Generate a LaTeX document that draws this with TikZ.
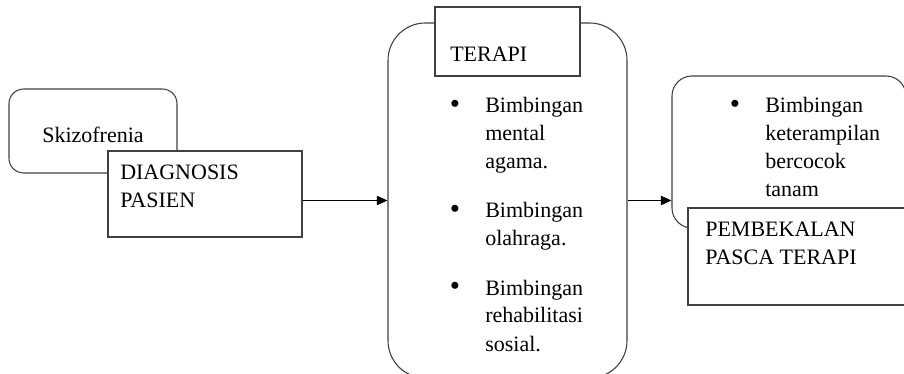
\documentclass[tikz,border=0pt]{standalone}
\usepackage{fontspec}
\setmainfont{Liberation Serif}
\usetikzlibrary{arrows.meta}
\usetikzlibrary{fit}

\begin{document}
\begin{tikzpicture}[x=0.75pt,y=-0.75pt,>/.tip={Triangle[length=8pt,width=7pt]},
	box/.style={draw=black!75,line width=0.8pt,fill=white,inner sep=0pt},
	rbox/.style={box,rounded corners=#1},
	txt/.style={inner sep=0pt,anchor=base west,align=left,text=black,font=\fontsize{16.5}{21}\selectfont},
	dot/.style={txt,anchor=base,font=\fontsize{22}{21}\selectfont}]
	\useasboundingbox (0,0) rectangle (904,374);
	% boxes
	\node (skizo) [rbox=11pt,fit={(9,89) (177,173)}] {};
	\node (diag) [box,fit={(108,151) (302,237)}] {};
	\node (terapi) [rbox=28pt,fit={(388,23) (627,378)}] {};
	\node (terapihead) [box,fit={(435,7) (580,76)}] {};
	\node (bekal) [rbox=15pt,fit={(672,76) (906,228)}] {};
	\node (pasca) [box,fit={(688,208) (906,305)}] {};
	% texts (multi-line: base is the last line)
	\node (skizotxt) [txt,anchor=base] at (93,143) {Skizofrenia};
	\node (diagtxt) [txt] at (120,208) {DIAGNOSIS\\PASIEN};
	\node (terapitxt) [txt] at (450,62) {TERAPI};
	\node (b1) [dot] at (455,114) {\textbullet};
	\node (t1) [txt] at (485,169) {Bimbingan\\mental\\agama.};
	\node (b2) [dot] at (455,219) {\textbullet};
	\node (t2) [txt] at (485,246) {Bimbingan\\olahraga.};
	\node (b3) [dot] at (455,296) {\textbullet};
	\node (t3) [txt] at (485,351) {Bimbingan\\rehabilitasi\\sosial.};
	\node (b4) [dot] at (735,114) {\textbullet};
	\node (t4) [txt] at (765,197) {Bimbingan\\keterampilan\\bercocok\\tanam};
	\node (pascatxt) [txt] at (705,265) {PEMBEKALAN\\PASCA TERAPI};
	% arrows
	\draw[->,line width=0.8pt] (diag.east |- terapi.west) -- (terapi.west);
	\draw[->,line width=0.8pt] (terapi.east) -- (terapi.east -| bekal.west);
\end{tikzpicture}
\end{document}
